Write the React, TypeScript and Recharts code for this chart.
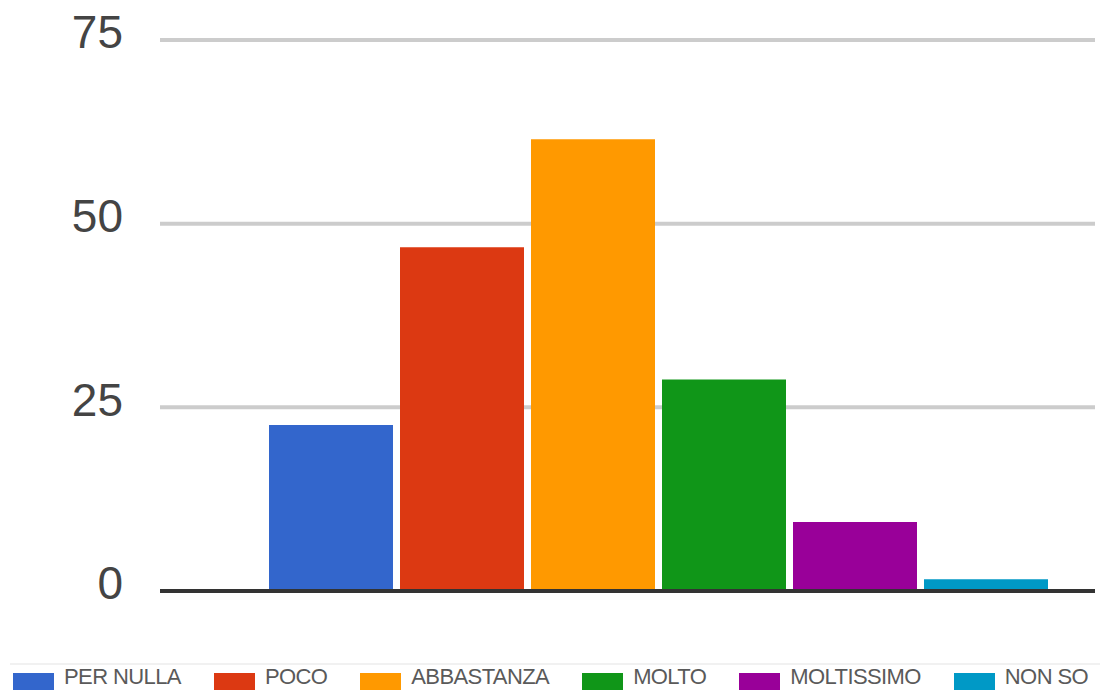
import React from "react";
import {
  BarChart,
  Bar,
  XAxis,
  YAxis,
  CartesianGrid,
  Legend,
  ReferenceLine,
} from "recharts";

const seriesNames = ["PER NULLA", "POCO", "ABBASTANZA", "MOLTO", "MOLTISSIMO", "NON SO"];
const seriesValues = [22.6, 46.8, 61.5, 28.8, 9.4, 1.6];
const seriesColors = ["#3366cc", "#dc3912", "#ff9900", "#109618", "#990099", "#0099c6"];
const yTicks = [0, 25, 50, 75];

const row: Record<string, string | number> = { name: "" };
seriesNames.forEach((n, i) => {
  row[n] = seriesValues[i];
});
const data = [row];

function LegendBox() {
  return (
    <div
      style={{
        display: "flex",
        alignItems: "flex-start",
        height: 27,
        overflow: "hidden",
        marginLeft: 10,
        borderTop: "2px solid #f1f1f1",
        paddingLeft: 3,
        paddingTop: 5,
        boxSizing: "border-box",
        fontFamily: "'Liberation Sans', Arial, sans-serif",
      }}
    >
      {seriesNames.map((n, i) => (
        <div key={n} style={{ display: "flex", alignItems: "flex-start", marginRight: 33 }}>
          <div
            style={{
              width: 41,
              height: 38,
              marginTop: 3,
              marginRight: 10,
              background: seriesColors[i],
            }}
          />
          <span
            style={{
              fontSize: 22,
              lineHeight: "18px",
              marginTop: -2,
              letterSpacing: -0.6,
              color: "#5a5a5a",
              whiteSpace: "nowrap",
            }}
          >
            {n}
          </span>
        </div>
      ))}
    </div>
  );
}

export default function App() {
  return (
    <div style={{ width: 1100, height: 690, position: "relative", background: "#fff" }}>
      <style>{"body{margin:0;overflow:hidden}"}</style>
      <BarChart
        width={1100}
        height={690}
        data={data}
        margin={{ top: 40, right: 5, left: 0, bottom: 72 }}
        barCategoryGap={0}
        barGap={7}
      >
        <CartesianGrid horizontal vertical={false} stroke="#cccccc" strokeWidth={4} />
        <XAxis dataKey="name" hide padding={{ left: 109, right: 48 }} />
        <YAxis
          width={160}
          domain={[0, 75]}
          ticks={yTicks}
          axisLine={false}
          tickLine={false}
          tickSize={0}
          tickMargin={37}
          tick={{
            fontSize: 46,
            fill: "#444444",
            fontFamily: "'Liberation Sans', Arial, sans-serif",
            dy: -8,
          }}
        />
        {seriesNames.map((n, i) => (
          <Bar key={n} dataKey={n} fill={seriesColors[i]} isAnimationActive={false} />
        ))}
        <ReferenceLine y={0} stroke="#333333" strokeWidth={4} />
        <Legend
          verticalAlign="bottom"
          wrapperStyle={{ left: 0, bottom: 0, width: 1100 }}
          content={() => <LegendBox />}
        />
      </BarChart>
    </div>
  );
}
